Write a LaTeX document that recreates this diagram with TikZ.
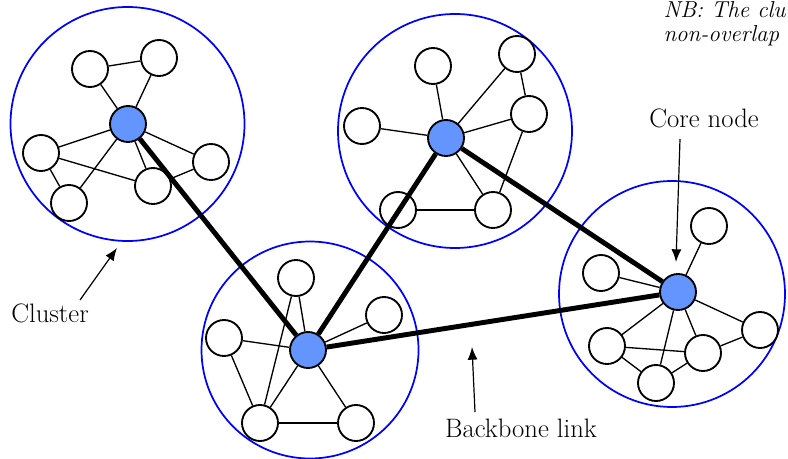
\documentclass[tikz,border=0pt]{standalone}
\usepackage{fontspec}
\usetikzlibrary{arrows.meta}

\tikzset{every picture/.style={line width=0.75pt}}
\tikzset{
  cluster/.style={circle, draw={rgb, 255:red, 0; green, 0; blue, 255 }, line width=1.3pt, inner sep=0pt},
  member/.style={circle, draw, fill=white, minimum size=27pt, inner sep=0pt, line width=1.4pt},
  core/.style={member, fill={rgb, 255:red, 100; green, 149; blue, 255 }},
  link/.style={line width=1pt},
  backbone/.style={line width=3.7pt},
  pointer/.style={line width=0.9pt, -{Latex[length=9.5pt,width=7.5pt]}},
  lbl/.style={inner sep=0pt, font=\fontsize{20}{24}\selectfont},
  note/.style={inner sep=0pt, anchor=base west, font=\itshape\fontsize{17.3}{21}\selectfont},
}

\begin{document}
\begin{tikzpicture}[x=0.75pt,y=0.75pt,yscale=-1,xscale=1]
\useasboundingbox (0,0) rectangle (788,459);
\clip (0,0) rectangle (788,459);

%Clusters
\node[cluster, minimum size=175.5pt] (cl1) at (127.5,124) {};
\node[cluster, minimum size=175.5pt] (cl2) at (455,131) {};
\node[cluster, minimum size=162.75pt] (cl3) at (310,350) {};
\node[cluster, minimum size=169.5pt] (cl4) at (672,294) {};

%Core nodes
\node[core] (k1) at (128,124) {};
\node[core] (k2) at (446,138) {};
\node[core] (k3) at (308,350) {};
\node[core] (k4) at (678,292) {};

%Members, top left cluster
\node[member] (a1) at (90,69) {};
\node[member] (a2) at (159,58) {};
\node[member] (a3) at (41,153) {};
\node[member] (a4) at (69,203) {};
\node[member] (a5) at (153,186) {};
\node[member] (a6) at (211,162) {};
%Members, top middle cluster
\node[member] (b1) at (433,66) {};
\node[member] (b2) at (362,126) {};
\node[member] (b3) at (517,54) {};
\node[member] (b4) at (529,114) {};
\node[member] (b5) at (398,210) {};
\node[member] (b6) at (493,210) {};
%Members, bottom cluster
\node[member] (c1) at (296,278) {};
\node[member] (c2) at (384,315) {};
\node[member] (c3) at (224,338) {};
\node[member] (c4) at (260,423) {};
\node[member] (c5) at (356,423) {};
%Members, right cluster
\node[member] (d1) at (709,226) {};
\node[member] (d2) at (601,273) {};
\node[member] (d3) at (760,330) {};
\node[member] (d4) at (607,346) {};
\node[member] (d5) at (703,353) {};
\node[member] (d6) at (656,383) {};

%Links, top left cluster
\draw[link] (a1) -- (a2);
\draw[link] (a1) -- (k1);
\draw[link] (a2) -- (k1);
\draw[link] (k1) -- (a3);
\draw[link] (a3) -- (a5);
\draw[link] (a3) -- (a4);
\draw[link] (a4) -- (k1);
\draw[link] (k1) -- (a5);
\draw[link] (k1) -- (a6);
\draw[link] (a5) -- (a6);
%Links, top middle cluster
\draw[link] (k2) -- (b1);
\draw[link] (k2) -- (b2);
\draw[link] (k2) -- (b3);
\draw[link] (k2) -- (b4);
\draw[link] (b3) -- (b4);
\draw[link] (b4) -- (b6);
\draw[link] (k2) -- (b6);
\draw[link] (b5) -- (b6);
\draw[link] (k2) -- (b5);
%Links, bottom cluster
\draw[link] (k3) -- (c1);
\draw[link] (k3) -- (c2);
\draw[link] (k3) -- (c3);
\draw[link] (c3) -- (c4);
\draw[link] (k3) -- (c4);
\draw[link] (c4) -- (c5);
\draw[link] (k3) -- (c5);
\draw[link] (c1) -- (c4);
%Links, right cluster
\draw[link] (k4) -- (d1);
\draw[link] (k4) -- (d2);
\draw[link] (k4) -- (d3);
\draw[link] (k4) -- (d4);
\draw[link] (k4) -- (d5);
\draw[link] (k4) -- (d6);
\draw[link] (d4) -- (d5);
\draw[link] (d4) -- (d6);
\draw[link] (d5) -- (d6);
\draw[link] (d5) -- (d3);

%Backbone links
\draw[backbone] (k1) -- (k3);
\draw[backbone] (k2) -- (k3);
\draw[backbone] (k2) -- (k4);
\draw[backbone] (k3) -- (k4);

% Text Node
\node[lbl, anchor=base] (clusterlbl) at (50,322) {Cluster};
% Text Node
\node[lbl, anchor=base] (corelbl) at (704,128) {Core node};
% Text Node
\node[lbl, anchor=base] (backbonelbl) at (521,437) {Backbone link};
% Text Node
\node[note] (nbone) at (663,17.3) {NB: The clu};
% Text Node
\node[note] (nbtwo) at (663,41.7) {non-overlap};

%Pointers
\coordinate (clutail) at (80,300);
\coordinate (cluhead) at (117,248);
\coordinate (coretail) at (680,139);
\coordinate (corehead) at (676,262);
\coordinate (bbtail) at (475,412);
\coordinate (bbhead) at (472,347);
\draw[pointer] (clutail) -- (cluhead);
\draw[pointer] (coretail) -- (corehead);
\draw[pointer] (bbtail) -- (bbhead);

\end{tikzpicture}
\end{document}
